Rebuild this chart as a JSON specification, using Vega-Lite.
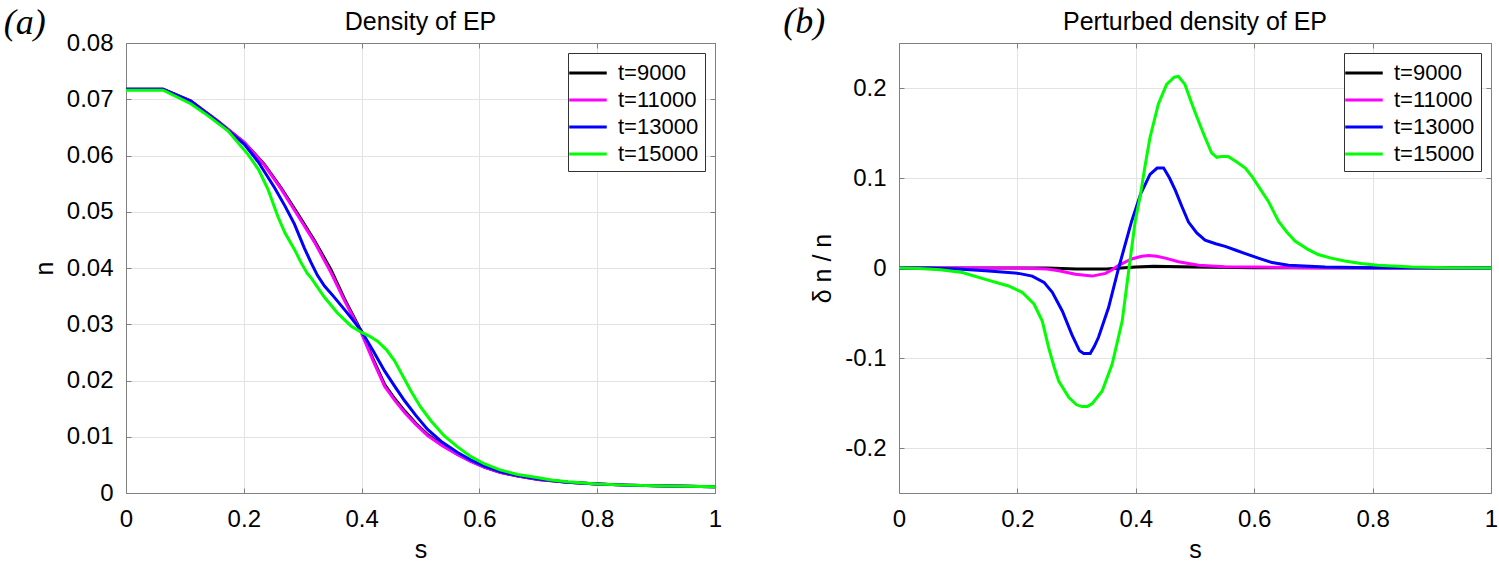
{
  "$schema": "https://vega.github.io/schema/vega-lite/v6.json",
  "description": "Density and perturbed density of EP",
  "background": "white",
  "padding": {"left": 3, "top": 4, "right": 2, "bottom": 5},
  "spacing": 60,
  "config": {
    "font": "Liberation Sans",
    "view": {"stroke": "#808080", "strokeWidth": 1},
    "axis": {
      "labelFont": "Liberation Sans",
      "labelFontSize": 24,
      "labelColor": "#000000",
      "labelFlush": false,
      "labelOverlap": false,
      "titleFont": "Liberation Sans",
      "titleFontSize": 25,
      "titleFontWeight": "normal",
      "titleColor": "#000000",
      "domainColor": "#808080",
      "tickColor": "#808080",
      "tickSize": -5,
      "gridColor": "#e3e3e3",
      "gridWidth": 1
    },
    "legend": {
      "orient": "top-right",
      "offset": 10,
      "labelFont": "Liberation Sans",
      "labelFontSize": 22,
      "labelColor": "#000000",
      "symbolType": "M-1.5,0H1.5",
      "symbolStrokeWidth": 3,
      "symbolSize": 625,
      "strokeColor": "#333333",
      "fillColor": "white",
      "padding": 6,
      "rowPadding": 2,
      "labelOffset": 16
    },
    "title": {"font": "Liberation Sans", "fontSize": 25, "fontWeight": "normal", "color": "#000000"}
  },
  "datasets": {
    "density": [
      {"s": 0, "n": 0.0718, "t": "t=9000"},
      {"s": 0.063, "n": 0.0718, "t": "t=9000"},
      {"s": 0.11, "n": 0.0697, "t": "t=9000"},
      {"s": 0.156, "n": 0.0661, "t": "t=9000"},
      {"s": 0.201, "n": 0.0623, "t": "t=9000"},
      {"s": 0.235, "n": 0.0584, "t": "t=9000"},
      {"s": 0.263, "n": 0.0543, "t": "t=9000"},
      {"s": 0.292, "n": 0.0496, "t": "t=9000"},
      {"s": 0.32, "n": 0.0449, "t": "t=9000"},
      {"s": 0.348, "n": 0.0397, "t": "t=9000"},
      {"s": 0.371, "n": 0.0345, "t": "t=9000"},
      {"s": 0.399, "n": 0.0288, "t": "t=9000"},
      {"s": 0.42, "n": 0.0237, "t": "t=9000"},
      {"s": 0.439, "n": 0.0193, "t": "t=9000"},
      {"s": 0.456, "n": 0.0168, "t": "t=9000"},
      {"s": 0.473, "n": 0.0146, "t": "t=9000"},
      {"s": 0.492, "n": 0.0124, "t": "t=9000"},
      {"s": 0.512, "n": 0.0104, "t": "t=9000"},
      {"s": 0.537, "n": 0.0085, "t": "t=9000"},
      {"s": 0.563, "n": 0.0069, "t": "t=9000"},
      {"s": 0.585, "n": 0.0057, "t": "t=9000"},
      {"s": 0.608, "n": 0.0046, "t": "t=9000"},
      {"s": 0.635, "n": 0.0037, "t": "t=9000"},
      {"s": 0.665, "n": 0.003, "t": "t=9000"},
      {"s": 0.7, "n": 0.0024, "t": "t=9000"},
      {"s": 0.75, "n": 0.0019, "t": "t=9000"},
      {"s": 0.8, "n": 0.0016, "t": "t=9000"},
      {"s": 0.85, "n": 0.0014, "t": "t=9000"},
      {"s": 0.9, "n": 0.0013, "t": "t=9000"},
      {"s": 0.95, "n": 0.0012, "t": "t=9000"},
      {"s": 1, "n": 0.0011, "t": "t=9000"},

      {"s": 0, "n": 0.0718, "t": "t=11000"},
      {"s": 0.063, "n": 0.0718, "t": "t=11000"},
      {"s": 0.11, "n": 0.0697, "t": "t=11000"},
      {"s": 0.156, "n": 0.0661, "t": "t=11000"},
      {"s": 0.201, "n": 0.0623, "t": "t=11000"},
      {"s": 0.235, "n": 0.0583, "t": "t=11000"},
      {"s": 0.263, "n": 0.0541, "t": "t=11000"},
      {"s": 0.292, "n": 0.0493, "t": "t=11000"},
      {"s": 0.32, "n": 0.0446, "t": "t=11000"},
      {"s": 0.348, "n": 0.0392, "t": "t=11000"},
      {"s": 0.371, "n": 0.0342, "t": "t=11000"},
      {"s": 0.399, "n": 0.0286, "t": "t=11000"},
      {"s": 0.42, "n": 0.0234, "t": "t=11000"},
      {"s": 0.439, "n": 0.019, "t": "t=11000"},
      {"s": 0.456, "n": 0.0165, "t": "t=11000"},
      {"s": 0.473, "n": 0.0143, "t": "t=11000"},
      {"s": 0.492, "n": 0.0122, "t": "t=11000"},
      {"s": 0.512, "n": 0.0102, "t": "t=11000"},
      {"s": 0.537, "n": 0.0084, "t": "t=11000"},
      {"s": 0.563, "n": 0.0068, "t": "t=11000"},
      {"s": 0.585, "n": 0.0056, "t": "t=11000"},
      {"s": 0.608, "n": 0.0046, "t": "t=11000"},
      {"s": 0.635, "n": 0.0037, "t": "t=11000"},
      {"s": 0.665, "n": 0.003, "t": "t=11000"},
      {"s": 0.7, "n": 0.0024, "t": "t=11000"},
      {"s": 0.75, "n": 0.0019, "t": "t=11000"},
      {"s": 0.8, "n": 0.0016, "t": "t=11000"},
      {"s": 0.85, "n": 0.0014, "t": "t=11000"},
      {"s": 0.9, "n": 0.0013, "t": "t=11000"},
      {"s": 0.95, "n": 0.0012, "t": "t=11000"},
      {"s": 1, "n": 0.0011, "t": "t=11000"},

      {"s": 0, "n": 0.0718, "t": "t=13000"},
      {"s": 0.063, "n": 0.0718, "t": "t=13000"},
      {"s": 0.11, "n": 0.0697, "t": "t=13000"},
      {"s": 0.156, "n": 0.066, "t": "t=13000"},
      {"s": 0.201, "n": 0.062, "t": "t=13000"},
      {"s": 0.225, "n": 0.0588, "t": "t=13000"},
      {"s": 0.252, "n": 0.0543, "t": "t=13000"},
      {"s": 0.27, "n": 0.051, "t": "t=13000"},
      {"s": 0.286, "n": 0.0478, "t": "t=13000"},
      {"s": 0.303, "n": 0.0435, "t": "t=13000"},
      {"s": 0.314, "n": 0.041, "t": "t=13000"},
      {"s": 0.325, "n": 0.0387, "t": "t=13000"},
      {"s": 0.337, "n": 0.0368, "t": "t=13000"},
      {"s": 0.352, "n": 0.035, "t": "t=13000"},
      {"s": 0.371, "n": 0.0326, "t": "t=13000"},
      {"s": 0.385, "n": 0.0308, "t": "t=13000"},
      {"s": 0.399, "n": 0.0289, "t": "t=13000"},
      {"s": 0.42, "n": 0.0252, "t": "t=13000"},
      {"s": 0.439, "n": 0.0217, "t": "t=13000"},
      {"s": 0.456, "n": 0.019, "t": "t=13000"},
      {"s": 0.473, "n": 0.0164, "t": "t=13000"},
      {"s": 0.492, "n": 0.0138, "t": "t=13000"},
      {"s": 0.512, "n": 0.0113, "t": "t=13000"},
      {"s": 0.537, "n": 0.009, "t": "t=13000"},
      {"s": 0.563, "n": 0.0072, "t": "t=13000"},
      {"s": 0.585, "n": 0.0059, "t": "t=13000"},
      {"s": 0.608, "n": 0.0048, "t": "t=13000"},
      {"s": 0.635, "n": 0.0038, "t": "t=13000"},
      {"s": 0.665, "n": 0.0031, "t": "t=13000"},
      {"s": 0.7, "n": 0.0025, "t": "t=13000"},
      {"s": 0.75, "n": 0.0019, "t": "t=13000"},
      {"s": 0.8, "n": 0.0016, "t": "t=13000"},
      {"s": 0.85, "n": 0.0014, "t": "t=13000"},
      {"s": 0.9, "n": 0.0013, "t": "t=13000"},
      {"s": 0.95, "n": 0.0012, "t": "t=13000"},
      {"s": 1, "n": 0.0011, "t": "t=13000"},

      {"s": 0, "n": 0.0716, "t": "t=15000"},
      {"s": 0.063, "n": 0.0716, "t": "t=15000"},
      {"s": 0.11, "n": 0.0692, "t": "t=15000"},
      {"s": 0.14, "n": 0.067, "t": "t=15000"},
      {"s": 0.173, "n": 0.0644, "t": "t=15000"},
      {"s": 0.207, "n": 0.0602, "t": "t=15000"},
      {"s": 0.225, "n": 0.0575, "t": "t=15000"},
      {"s": 0.241, "n": 0.054, "t": "t=15000"},
      {"s": 0.258, "n": 0.0491, "t": "t=15000"},
      {"s": 0.27, "n": 0.0462, "t": "t=15000"},
      {"s": 0.286, "n": 0.0433, "t": "t=15000"},
      {"s": 0.297, "n": 0.041, "t": "t=15000"},
      {"s": 0.308, "n": 0.039, "t": "t=15000"},
      {"s": 0.314, "n": 0.0383, "t": "t=15000"},
      {"s": 0.337, "n": 0.0348, "t": "t=15000"},
      {"s": 0.359, "n": 0.032, "t": "t=15000"},
      {"s": 0.382, "n": 0.0297, "t": "t=15000"},
      {"s": 0.399, "n": 0.0286, "t": "t=15000"},
      {"s": 0.413, "n": 0.0279, "t": "t=15000"},
      {"s": 0.427, "n": 0.027, "t": "t=15000"},
      {"s": 0.442, "n": 0.0255, "t": "t=15000"},
      {"s": 0.456, "n": 0.0235, "t": "t=15000"},
      {"s": 0.47, "n": 0.0208, "t": "t=15000"},
      {"s": 0.484, "n": 0.0181, "t": "t=15000"},
      {"s": 0.5, "n": 0.0153, "t": "t=15000"},
      {"s": 0.518, "n": 0.0128, "t": "t=15000"},
      {"s": 0.54, "n": 0.0102, "t": "t=15000"},
      {"s": 0.563, "n": 0.0082, "t": "t=15000"},
      {"s": 0.585, "n": 0.0065, "t": "t=15000"},
      {"s": 0.608, "n": 0.0052, "t": "t=15000"},
      {"s": 0.635, "n": 0.0041, "t": "t=15000"},
      {"s": 0.665, "n": 0.0033, "t": "t=15000"},
      {"s": 0.7, "n": 0.0027, "t": "t=15000"},
      {"s": 0.722, "n": 0.0023, "t": "t=15000"},
      {"s": 0.75, "n": 0.002, "t": "t=15000"},
      {"s": 0.8, "n": 0.0016, "t": "t=15000"},
      {"s": 0.85, "n": 0.0014, "t": "t=15000"},
      {"s": 0.9, "n": 0.0013, "t": "t=15000"},
      {"s": 0.95, "n": 0.0012, "t": "t=15000"},
      {"s": 1, "n": 0.0011, "t": "t=15000"}
    ],
    "perturbed": [
      {"s": 0, "dn": 0, "t": "t=9000"},
      {"s": 0.25, "dn": 0, "t": "t=9000"},
      {"s": 0.3, "dn": -0.001, "t": "t=9000"},
      {"s": 0.35, "dn": -0.001, "t": "t=9000"},
      {"s": 0.4, "dn": 0.001, "t": "t=9000"},
      {"s": 0.43, "dn": 0.002, "t": "t=9000"},
      {"s": 0.5, "dn": 0.001, "t": "t=9000"},
      {"s": 0.6, "dn": 0.0003, "t": "t=9000"},
      {"s": 1, "dn": 0, "t": "t=9000"},

      {"s": 0, "dn": 0, "t": "t=11000"},
      {"s": 0.2, "dn": 0, "t": "t=11000"},
      {"s": 0.25, "dn": -0.001, "t": "t=11000"},
      {"s": 0.27, "dn": -0.003, "t": "t=11000"},
      {"s": 0.298, "dn": -0.007, "t": "t=11000"},
      {"s": 0.326, "dn": -0.009, "t": "t=11000"},
      {"s": 0.349, "dn": -0.006, "t": "t=11000"},
      {"s": 0.36, "dn": -0.002, "t": "t=11000"},
      {"s": 0.371, "dn": 0.003, "t": "t=11000"},
      {"s": 0.393, "dn": 0.01, "t": "t=11000"},
      {"s": 0.41, "dn": 0.013, "t": "t=11000"},
      {"s": 0.422, "dn": 0.014, "t": "t=11000"},
      {"s": 0.435, "dn": 0.013, "t": "t=11000"},
      {"s": 0.45, "dn": 0.011, "t": "t=11000"},
      {"s": 0.472, "dn": 0.007, "t": "t=11000"},
      {"s": 0.506, "dn": 0.003, "t": "t=11000"},
      {"s": 0.55, "dn": 0.0015, "t": "t=11000"},
      {"s": 0.607, "dn": 0.001, "t": "t=11000"},
      {"s": 0.7, "dn": 0.0003, "t": "t=11000"},
      {"s": 1, "dn": 0, "t": "t=11000"},

      {"s": 0, "dn": 0, "t": "t=13000"},
      {"s": 0.05, "dn": 0, "t": "t=13000"},
      {"s": 0.1, "dn": -0.001, "t": "t=13000"},
      {"s": 0.146, "dn": -0.003, "t": "t=13000"},
      {"s": 0.202, "dn": -0.006, "t": "t=13000"},
      {"s": 0.225, "dn": -0.009, "t": "t=13000"},
      {"s": 0.245, "dn": -0.016, "t": "t=13000"},
      {"s": 0.259, "dn": -0.027, "t": "t=13000"},
      {"s": 0.276, "dn": -0.048, "t": "t=13000"},
      {"s": 0.292, "dn": -0.074, "t": "t=13000"},
      {"s": 0.305, "dn": -0.092, "t": "t=13000"},
      {"s": 0.312, "dn": -0.095, "t": "t=13000"},
      {"s": 0.323, "dn": -0.095, "t": "t=13000"},
      {"s": 0.33, "dn": -0.087, "t": "t=13000"},
      {"s": 0.337, "dn": -0.077, "t": "t=13000"},
      {"s": 0.354, "dn": -0.044, "t": "t=13000"},
      {"s": 0.371, "dn": 0, "t": "t=13000"},
      {"s": 0.393, "dn": 0.052, "t": "t=13000"},
      {"s": 0.408, "dn": 0.082, "t": "t=13000"},
      {"s": 0.424, "dn": 0.104, "t": "t=13000"},
      {"s": 0.436, "dn": 0.111, "t": "t=13000"},
      {"s": 0.447, "dn": 0.111, "t": "t=13000"},
      {"s": 0.457, "dn": 0.1, "t": "t=13000"},
      {"s": 0.467, "dn": 0.086, "t": "t=13000"},
      {"s": 0.478, "dn": 0.068, "t": "t=13000"},
      {"s": 0.489, "dn": 0.051, "t": "t=13000"},
      {"s": 0.503, "dn": 0.039, "t": "t=13000"},
      {"s": 0.517, "dn": 0.031, "t": "t=13000"},
      {"s": 0.535, "dn": 0.027, "t": "t=13000"},
      {"s": 0.551, "dn": 0.024, "t": "t=13000"},
      {"s": 0.568, "dn": 0.02, "t": "t=13000"},
      {"s": 0.585, "dn": 0.016, "t": "t=13000"},
      {"s": 0.607, "dn": 0.011, "t": "t=13000"},
      {"s": 0.63, "dn": 0.006, "t": "t=13000"},
      {"s": 0.658, "dn": 0.003, "t": "t=13000"},
      {"s": 0.72, "dn": 0.001, "t": "t=13000"},
      {"s": 0.8, "dn": 0.0003, "t": "t=13000"},
      {"s": 1, "dn": 0, "t": "t=13000"},

      {"s": 0, "dn": 0, "t": "t=15000"},
      {"s": 0.034, "dn": -0.0005, "t": "t=15000"},
      {"s": 0.07, "dn": -0.002, "t": "t=15000"},
      {"s": 0.107, "dn": -0.005, "t": "t=15000"},
      {"s": 0.146, "dn": -0.0126, "t": "t=15000"},
      {"s": 0.185, "dn": -0.02, "t": "t=15000"},
      {"s": 0.208, "dn": -0.027, "t": "t=15000"},
      {"s": 0.228, "dn": -0.04, "t": "t=15000"},
      {"s": 0.242, "dn": -0.059, "t": "t=15000"},
      {"s": 0.253, "dn": -0.089, "t": "t=15000"},
      {"s": 0.262, "dn": -0.11, "t": "t=15000"},
      {"s": 0.27, "dn": -0.126, "t": "t=15000"},
      {"s": 0.287, "dn": -0.144, "t": "t=15000"},
      {"s": 0.3, "dn": -0.152, "t": "t=15000"},
      {"s": 0.309, "dn": -0.154, "t": "t=15000"},
      {"s": 0.318, "dn": -0.154, "t": "t=15000"},
      {"s": 0.326, "dn": -0.151, "t": "t=15000"},
      {"s": 0.343, "dn": -0.137, "t": "t=15000"},
      {"s": 0.36, "dn": -0.107, "t": "t=15000"},
      {"s": 0.377, "dn": -0.059, "t": "t=15000"},
      {"s": 0.388, "dn": -0.003, "t": "t=15000"},
      {"s": 0.399, "dn": 0.052, "t": "t=15000"},
      {"s": 0.408, "dn": 0.082, "t": "t=15000"},
      {"s": 0.416, "dn": 0.115, "t": "t=15000"},
      {"s": 0.424, "dn": 0.145, "t": "t=15000"},
      {"s": 0.438, "dn": 0.182, "t": "t=15000"},
      {"s": 0.452, "dn": 0.204, "t": "t=15000"},
      {"s": 0.465, "dn": 0.212, "t": "t=15000"},
      {"s": 0.472, "dn": 0.213, "t": "t=15000"},
      {"s": 0.483, "dn": 0.204, "t": "t=15000"},
      {"s": 0.495, "dn": 0.182, "t": "t=15000"},
      {"s": 0.506, "dn": 0.163, "t": "t=15000"},
      {"s": 0.517, "dn": 0.145, "t": "t=15000"},
      {"s": 0.528, "dn": 0.128, "t": "t=15000"},
      {"s": 0.537, "dn": 0.123, "t": "t=15000"},
      {"s": 0.545, "dn": 0.124, "t": "t=15000"},
      {"s": 0.556, "dn": 0.124, "t": "t=15000"},
      {"s": 0.57, "dn": 0.118, "t": "t=15000"},
      {"s": 0.585, "dn": 0.111, "t": "t=15000"},
      {"s": 0.597, "dn": 0.101, "t": "t=15000"},
      {"s": 0.607, "dn": 0.091, "t": "t=15000"},
      {"s": 0.624, "dn": 0.074, "t": "t=15000"},
      {"s": 0.641, "dn": 0.052, "t": "t=15000"},
      {"s": 0.655, "dn": 0.04, "t": "t=15000"},
      {"s": 0.669, "dn": 0.03, "t": "t=15000"},
      {"s": 0.69, "dn": 0.021, "t": "t=15000"},
      {"s": 0.708, "dn": 0.015, "t": "t=15000"},
      {"s": 0.73, "dn": 0.011, "t": "t=15000"},
      {"s": 0.753, "dn": 0.0078, "t": "t=15000"},
      {"s": 0.78, "dn": 0.005, "t": "t=15000"},
      {"s": 0.809, "dn": 0.003, "t": "t=15000"},
      {"s": 0.866, "dn": 0.001, "t": "t=15000"},
      {"s": 0.93, "dn": 0.0003, "t": "t=15000"},
      {"s": 1, "dn": 0, "t": "t=15000"}
    ]
  },
  "resolve": {"scale": {"color": "independent"}, "legend": {"color": "independent"}},
  "hconcat": [
    {
      "title": {"text": "(a)", "font": "Liberation Serif", "fontStyle": "italic", "fontSize": 36, "anchor": "start", "frame": "bounds", "offset": -32, "dx": -28},
      "resolve": {"scale": {"color": "independent"}, "legend": {"color": "independent"}},
      "vconcat": [
        {
          "title": {"text": "Density of EP", "offset": -4},
          "width": 589,
          "height": 450,
          "data": {"name": "density"},
          "resolve": {"axis": {"x": "independent", "y": "independent"}},
          "layer": [
            {
              "mark": {"type": "line", "strokeWidth": 3, "clip": true},
              "encoding": {
                "x": {"field": "s", "type": "quantitative", "title": "s",
                      "scale": {"domain": [0, 1], "nice": false},
                      "axis": {"values": [0, 0.2, 0.4, 0.6, 0.8, 1], "format": "~g", "labelPadding": 19, "titlePadding": 6}},
                "y": {"field": "n", "type": "quantitative", "title": "n",
                      "scale": {"domain": [0, 0.08], "nice": false, "zero": false},
                      "axis": {"values": [0, 0.01, 0.02, 0.03, 0.04, 0.05, 0.06, 0.07, 0.08], "format": "~g", "labelPadding": 18, "titlePadding": 9}},
                "color": {"field": "t", "type": "nominal", "title": null,
                          "scale": {"domain": ["t=9000", "t=11000", "t=13000", "t=15000"], "range": ["#000000", "#ff00ff", "#0000ff", "#00ff00"]}}
              }
            },
            {
              "mark": {"type": "point", "opacity": 0},
              "encoding": {
                "x": {"field": "s", "type": "quantitative",
                      "axis": {"orient": "top", "values": [0, 0.2, 0.4, 0.6, 0.8, 1], "labels": false, "grid": false, "title": null}},
                "y": {"field": "n", "type": "quantitative",
                      "axis": {"orient": "right", "values": [0, 0.01, 0.02, 0.03, 0.04, 0.05, 0.06, 0.07, 0.08], "labels": false, "grid": false, "title": null}}
              }
            }
          ]
        }
      ]
    },
    {
      "title": {"text": "(b)", "font": "Liberation Serif", "fontStyle": "italic", "fontSize": 36, "anchor": "start", "frame": "bounds", "offset": -32, "dx": -27},
      "resolve": {"scale": {"color": "independent"}, "legend": {"color": "independent"}},
      "vconcat": [
        {
          "title": {"text": "Perturbed density of EP", "offset": 8},
          "width": 592,
          "height": 450,
          "data": {"name": "perturbed"},
          "resolve": {"axis": {"x": "independent", "y": "independent"}},
          "layer": [
            {
              "mark": {"type": "line", "strokeWidth": 3, "clip": true},
              "encoding": {
                "x": {"field": "s", "type": "quantitative", "title": "s",
                      "scale": {"domain": [0, 1], "nice": false},
                      "axis": {"values": [0, 0.2, 0.4, 0.6, 0.8, 1], "format": "~g", "labelPadding": 19, "titlePadding": 6}},
                "y": {"field": "dn", "type": "quantitative", "title": "δ n / n",
                      "scale": {"domain": [-0.25, 0.25], "nice": false, "zero": false},
                      "axis": {"values": [-0.2, -0.1, 0, 0.1, 0.2], "labelExpr": "datum.value < 0 ? '-' + format(-datum.value, '~g') : format(datum.value, '~g')", "labelPadding": 18, "titlePadding": 9}},
                "color": {"field": "t", "type": "nominal", "title": null,
                          "scale": {"domain": ["t=9000", "t=11000", "t=13000", "t=15000"], "range": ["#000000", "#ff00ff", "#0000ff", "#00ff00"]}}
              }
            },
            {
              "mark": {"type": "point", "opacity": 0},
              "encoding": {
                "x": {"field": "s", "type": "quantitative",
                      "axis": {"orient": "top", "values": [0, 0.2, 0.4, 0.6, 0.8, 1], "labels": false, "grid": false, "title": null}},
                "y": {"field": "dn", "type": "quantitative",
                      "axis": {"orient": "right", "values": [-0.2, -0.1, 0, 0.1, 0.2], "labels": false, "grid": false, "title": null}}
              }
            }
          ]
        }
      ]
    }
  ]
}
